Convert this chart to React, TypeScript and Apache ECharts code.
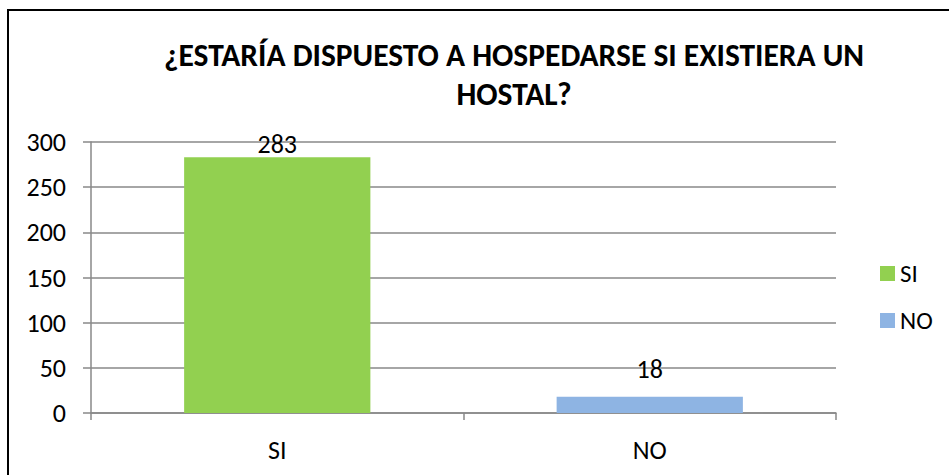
import React, { useEffect, useRef } from "react";
import * as echarts from "echarts";

const titleText = "¿ESTARÍA DISPUESTO A HOSPEDARSE SI EXISTIERA UN\nHOSTAL?";
const categories = ["SI", "NO"];
const seriesNames = ["SI", "NO"];
const siValues: (number | string)[] = [283, "-"];
const noValues: (number | string)[] = ["-", 18];
const yTicks = { min: 0, max: 300, interval: 50 };
const labelDistances = [0, 15];
const colors = ["#92D050", "#8EB4E3"];

export default function App() {
  const ref = useRef<HTMLDivElement>(null);
  useEffect(() => {
    if (!ref.current) return;
    const chart = echarts.init(ref.current, undefined, { renderer: "svg" });
    const font = "Carlito, 'Liberation Sans Narrow', 'Open Sans', sans-serif";
    const allValues = [siValues, noValues];
    chart.setOption({
      animation: false,
      textStyle: { fontFamily: font },
      title: {
        text: titleText,
        left: 509,
        textAlign: "center",
        top: 30,
        textStyle: { fontFamily: font, fontWeight: "bold", fontSize: 31.5, lineHeight: 39, color: "#000" },
      },
      graphic: [
        {
          type: "rect",
          shape: { x: 8, y: 10, width: 960, height: 500 },
          style: { fill: "none", stroke: "#000", lineWidth: 2 },
          silent: true,
        },
      ],
      legend: {
        orient: "vertical",
        left: 875,
        top: 256,
        itemWidth: 15,
        itemHeight: 15,
        itemGap: 22,
        icon: "rect",
        textStyle: { fontFamily: font, fontSize: 25, color: "#000" },
        data: seriesNames,
      },
      grid: { left: 91, right: 949 - 836, top: 142, bottom: 475 - 413, containLabel: false },
      xAxis: {
        type: "category",
        data: categories,
        axisLine: { lineStyle: { color: "#888", width: 1.5 } },
        axisTick: { show: true, length: 7, lineStyle: { color: "#888", width: 1.5 } },
        axisLabel: { fontFamily: font, fontSize: 26, color: "#000", margin: 24 },
      },
      yAxis: {
        type: "value",
        min: yTicks.min,
        max: yTicks.max,
        interval: yTicks.interval,
        axisLine: { show: true, lineStyle: { color: "#888", width: 1.5 } },
        axisTick: { show: true, length: 8, lineStyle: { color: "#888", width: 1.5 } },
        axisLabel: { fontFamily: font, fontSize: 26, color: "#000", margin: 25 },
        splitLine: { lineStyle: { color: "#888", width: 1.5 } },
      },
      series: seriesNames.map((name, si) => ({
        name,
        type: "bar",
        stack: "total",
        barWidth: "50%",
        itemStyle: { color: colors[si] },
        data: allValues[si].map((v, i) => ({
          value: v,
          label: {
            show: v !== "-",
            position: "top",
            distance: labelDistances[i],
            fontFamily: font,
            fontSize: 26,
            color: "#000",
          },
        })),
      })),
    });
    return () => chart.dispose();
  }, []);
  return (
    <div
      ref={ref}
      style={{ position: "fixed", left: 0, top: 0, width: 949, height: 475, background: "#fff" }}
    />
  );
}
